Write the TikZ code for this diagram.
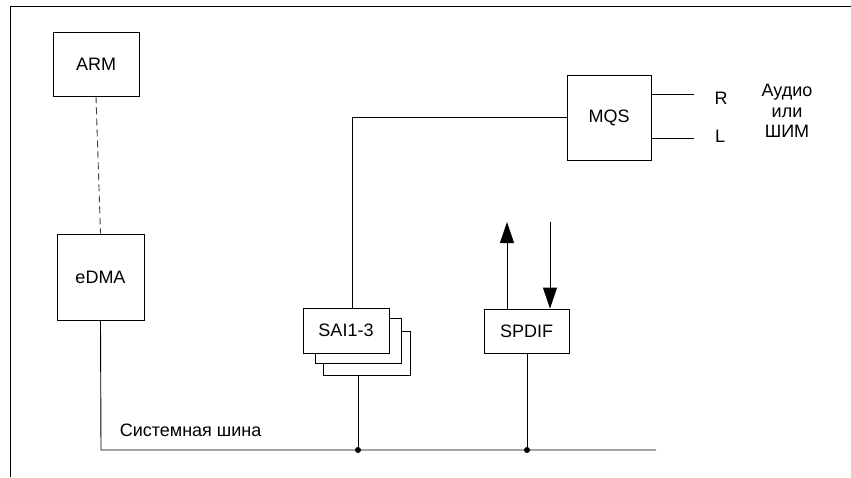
\documentclass[tikz,border=0pt]{standalone}
\usepackage{fontspec}
\setmainfont{Liberation Sans}
\usetikzlibrary{arrows.meta}

\begin{document}
\begin{tikzpicture}[x=1pt, y=-1pt, line width=0.9pt, >={Triangle[length=21pt, width=14pt]},
    every node/.style={font=\fontsize{18}{21}\selectfont},
    block/.style={draw, fill=white, inner sep=0pt}]
    \useasboundingbox (0,0) rectangle (851,477);
    % Rahmen (nur oben und links)
    \draw[line width=0.7pt] (10,477) -- (10,6) -- (851,6);

    % Bloecke
    \node[block, minimum width=86, minimum height=64] (arm) at (96,64) {ARM};
    \node[block, minimum width=87, minimum height=86] (edma) at (100.5,277) {eDMA};
    \node[block, minimum width=84, minimum height=85] (mqs) at (609,117.5) {MQS};
    \node[block, minimum width=87, minimum height=44] (sai3) at (366.5,353) {};
    \node[block, minimum width=86, minimum height=45] (sai2) at (358,340.5) {};
    \node[block, minimum width=86, minimum height=45] (sai) at (346,330.5) {SAI1-3};
    \node[block, minimum width=85, minimum height=44] (spdif) at (526.5,331) {SPDIF};

    % Systembus
    \coordinate (bus0) at (101,450);
    \coordinate (bus1) at (656,450);
    \coordinate (jsai) at (358,450);
    \coordinate (jspdif) at (527,450);
    \draw (edma.south) -- (bus0) -- (bus1);
    \draw (sai3.south -| jsai) -- (jsai);
    \draw (spdif.south -| jspdif) -- (jspdif);
    \fill (jsai) circle (3) (jspdif) circle (3);
    \node[anchor=west] (bustext) at (116,430) {Системная шина};

    % ARM -- eDMA
    \draw[dashed, dash pattern=on 7pt off 4pt, black!75] (arm.south) -- (edma.north);

    % SAI -- MQS
    \draw ([xshift=6]sai.north) |- (mqs.west);

    % SPDIF ein/aus
    \coordinate (outtop) at (507,222);
    \coordinate (intop) at (550,222);
    \draw[->] (spdif.north -| outtop) -- (outtop);
    \draw[->] (intop) -- (spdif.north -| intop);

    % MQS Ausgaenge
    \coordinate (rend) at (694,94);
    \coordinate (lend) at (694,138);
    \draw (mqs.east |- rend) -- (rend);
    \draw (mqs.east |- lend) -- (lend);
    \node (rtext) at (721,98) {R};
    \node (ltext) at (720,136) {L};
    \node[align=center, font=\fontsize{18}{20.5}\selectfont] (audio) at (787,111) {Аудио\\или\\ШИМ};
\end{tikzpicture}
\end{document}
